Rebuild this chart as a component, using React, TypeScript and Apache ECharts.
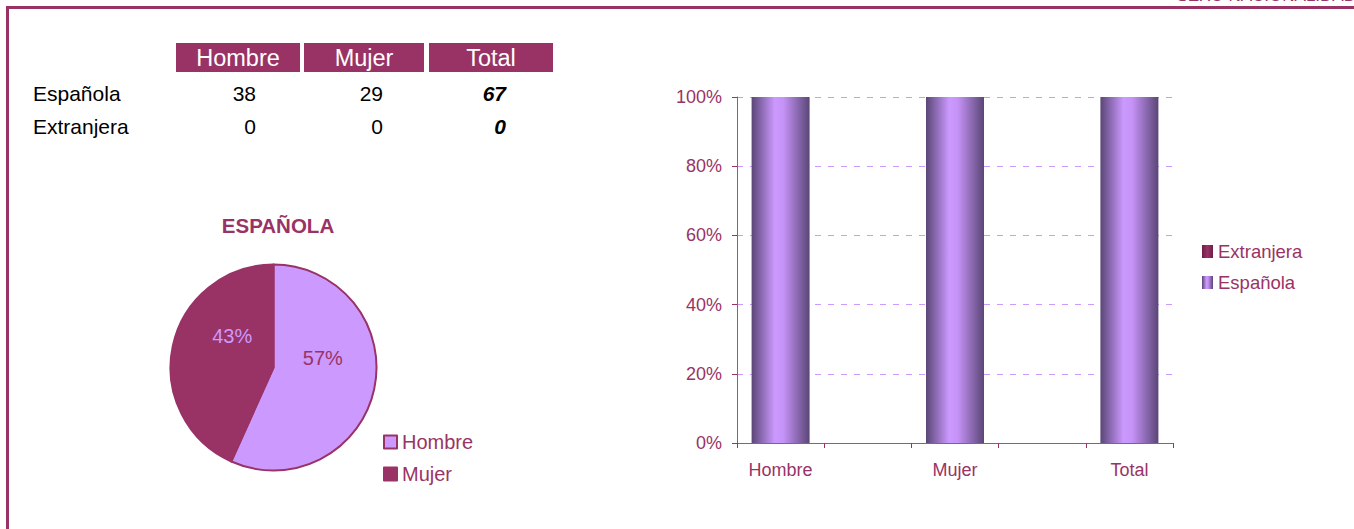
import React, { useEffect, useRef } from "react";
import * as echarts from "echarts";

const columns = ["Hombre", "Mujer", "Total"];
const rowLabels = ["Española", "Extranjera"];
const espanola = [38, 29, 67];
const extranjera = [0, 0, 0];
const pieLabels = ["Hombre", "Mujer"];
const pieValues = [38, 29];
const barCategories = ["Hombre", "", "Mujer", "", "Total"];
const pageTitle = "SEXO NACIONALIDAD";
const pieTitle = "ESPAÑOLA";

const MAROON = "#993366";
const LILAC = "#cc99ff";
const FONT = "Liberation Sans, Arial, sans-serif";

export default function App() {
  const ref = useRef<HTMLDivElement>(null);
  useEffect(() => {
    if (!ref.current) return;
    const chart = echarts.init(ref.current, null, { renderer: "svg" });

    // percentages per bar category (blank spacer categories are null)
    const espPct: (number | null)[] = [];
    const extPct: (number | null)[] = [];
    let ci = 0;
    barCategories.forEach((c) => {
      if (c === "") {
        espPct.push(null);
        extPct.push(null);
      } else {
        const e = espanola[ci];
        const x = extranjera[ci];
        const t = e + x;
        espPct.push(t ? e / t : 0);
        extPct.push(t ? x / t : 0);
        ci++;
      }
    });

    const barGrad = new echarts.graphic.LinearGradient(0, 0, 1, 0, [
      { offset: 0, color: "#5a4676" },
      { offset: 0.4, color: "#cc99ff" },
      { offset: 0.55, color: "#c592f6" },
      { offset: 1, color: "#5a4676" },
    ]);
    const extGrad = new echarts.graphic.LinearGradient(0, 0, 1, 0, [
      { offset: 0, color: "#6e1f48" },
      { offset: 0.5, color: "#993366" },
      { offset: 1, color: "#6e1f48" },
    ]);

    const colX = [[176, 124], [304, 120], [429, 124]];
    const valRight = [256, 383, 506];
    const rowY = [93, 126];
    const tableValues = [espanola, extranjera];

    const graphics: any[] = [
      { type: "rect", shape: { x: 6, y: 6, width: 1348, height: 3 }, style: { fill: MAROON } },
      { type: "rect", shape: { x: 6, y: 6, width: 3, height: 523 }, style: { fill: MAROON } },
      {
        type: "text",
        x: 1356,
        y: 4,
        style: { text: pageTitle, fill: MAROON, font: `17px ${FONT}`, textAlign: "right", textVerticalAlign: "bottom" },
      },
      {
        type: "text",
        x: 278,
        y: 225,
        style: { text: pieTitle, fill: MAROON, font: `bold 20.5px ${FONT}`, textAlign: "center", textVerticalAlign: "middle" },
      },
    ];
    columns.forEach((c, i) => {
      graphics.push({ type: "rect", shape: { x: colX[i][0], y: 43, width: colX[i][1], height: 29 }, style: { fill: MAROON } });
      graphics.push({
        type: "text",
        x: colX[i][0] + colX[i][1] / 2,
        y: 58,
        style: { text: c, fill: "#ffffff", font: `23.5px ${FONT}`, textAlign: "center", textVerticalAlign: "middle" },
      });
    });
    rowLabels.forEach((r, ri) => {
      graphics.push({
        type: "text",
        x: 33,
        y: rowY[ri],
        style: { text: r, fill: "#000000", font: `21px ${FONT}`, textAlign: "left", textVerticalAlign: "middle" },
      });
      tableValues[ri].forEach((v, i) => {
        const isTotal = i === 2;
        graphics.push({
          type: "text",
          x: valRight[i],
          y: rowY[ri],
          style: {
            text: String(v),
            fill: "#000000",
            font: `${isTotal ? "italic bold " : ""}21px ${FONT}`,
            textAlign: "right",
            textVerticalAlign: "middle",
          },
        });
      });
    });

    const pieColors = [LILAC, MAROON];
    const pieLabelColors = [MAROON, LILAC];
    const pieShift = [
      [-4, -21],
      [12, -20],
    ];

    chart.setOption({
      animation: false,
      textStyle: { fontFamily: FONT },
      graphic: graphics,
      legend: [
        {
          data: pieLabels,
          orient: "vertical",
          left: 378,
          top: 427,
          icon: "rect",
          itemWidth: 13,
          itemHeight: 13,
          itemGap: 12,
          textStyle: { color: MAROON, fontSize: 20, lineHeight: 20, fontFamily: FONT },
        },
        {
          data: ["Extranjera", "Española"],
          orient: "vertical",
          left: 1197,
          top: 237,
          icon: "rect",
          itemWidth: 11,
          itemHeight: 13,
          itemGap: 12,
          textStyle: { color: MAROON, fontSize: 18.5, lineHeight: 18, fontFamily: FONT },
        },
      ],
      grid: { left: 737, right: 181, top: 97, bottom: 86 },
      xAxis: {
        type: "category",
        data: barCategories,
        axisLine: { lineStyle: { color: "#a8507a", width: 1 } },
        axisTick: { show: true, length: 5, interval: 0, lineStyle: { color: MAROON } },
        axisLabel: { color: MAROON, fontSize: 18, margin: 18, interval: 0, fontFamily: FONT },
      },
      yAxis: {
        type: "value",
        min: 0,
        max: 1,
        interval: 0.2,
        axisLine: { show: true, lineStyle: { color: "#a8507a", width: 1 } },
        axisTick: { show: true, length: 5, lineStyle: { color: MAROON } },
        axisLabel: {
          color: MAROON,
          fontSize: 18,
          margin: 15,
          fontFamily: FONT,
          formatter: (v: number) => `${Math.round(v * 100)}%`,
        },
        splitLine: { show: true, lineStyle: { color: LILAC, type: [6, 7], width: 1 } },
      },
      series: [
        {
          name: "Española",
          type: "bar",
          stack: "nac",
          data: espPct,
          barWidth: 58,
          itemStyle: { color: barGrad },
        },
        {
          name: "Extranjera",
          type: "bar",
          stack: "nac",
          data: extPct,
          barWidth: 58,
          itemStyle: { color: extGrad },
        },
        {
          type: "pie",
          center: [273.5, 367.5],
          radius: 103,
          startAngle: 90,
          clockwise: true,
          data: pieLabels.map((n, i) => ({
            name: n,
            value: pieValues[i],
            itemStyle: { color: pieColors[i] },
            label: { color: pieLabelColors[i] },
          })),
          itemStyle: { borderColor: MAROON, borderWidth: 2 },
          label: {
            show: true,
            position: "inside",
            fontSize: 20,
            fontFamily: FONT,
            formatter: (p: any) => `${Math.round(p.percent)}%`,
          },
          labelLayout: (p: any) => ({ dx: pieShift[p.dataIndex][0], dy: pieShift[p.dataIndex][1] }),
          emphasis: { disabled: true },
        },
      ],
    });
    return () => chart.dispose();
  }, []);
  return (
    <div
      ref={ref}
      style={{ position: "fixed", left: 0, top: 0, width: 1354, height: 529, background: "#ffffff" }}
    />
  );
}
